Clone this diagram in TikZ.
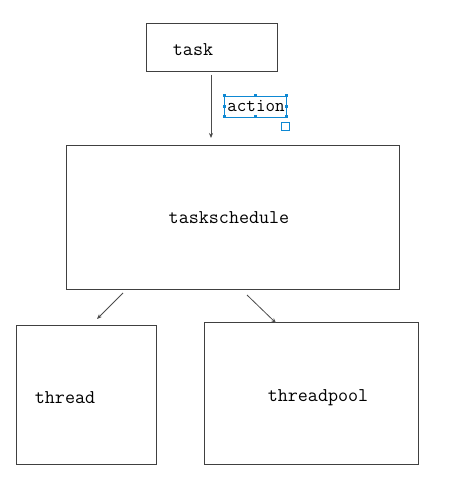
\documentclass[tikz,border=0pt]{standalone}
\usetikzlibrary{arrows.meta}
\begin{document}
\begin{tikzpicture}[x=1pt,y=-1pt,
  box/.style={draw=black!75,line width=0.9pt,inner sep=0pt},
  lbl/.style={font=\fontsize{19.5}{22}\selectfont\ttfamily},
  arr/.style={draw=black!70,line width=0.8pt,-{Stealth[length=5pt,width=4pt]}},
  sel/.style={draw=cyan!70!blue,line width=0.7pt},
  handle/.style={fill=cyan!70!blue,draw=none,minimum size=3pt,inner sep=0pt}]
\useasboundingbox (0,0) rectangle (456,494);
\fill[white] (0,0) rectangle (456,494);
% boxes
\draw[box] (146,23) rectangle (277,71);
\node[lbl] (task) at (193,50) {task};
\coordinate (taskB) at (211,75);
\draw[box] (66,145) rectangle (399,289);
\node[lbl] (ts) at (229,218) {taskschedule};
\coordinate (tsT) at (211,138);
\draw[box] (16,325) rectangle (156,464);
\node[lbl] (thread) at (65,398) {thread};
\draw[box] (204,322) rectangle (418,464);
\node[lbl] (pool) at (318,398) {threadpool};
% arrows
\draw[arr] (taskB) -- (tsT);
\coordinate (a1s) at (123,293);
\coordinate (a1e) at (97,319);
\coordinate (a2s) at (247,295);
\coordinate (a2e) at (276,323);
\draw[arr] (a1s) -- (a1e);
\draw[arr] (a2s) -- (a2e);
% action label with selection handles
\node[lbl,font=\fontsize{18.5}{20}\selectfont\ttfamily] (act) at (256,106) {action};
\draw[sel] (224,96) rectangle (286,117);
\foreach \p in {(224,96),(255,96),(286,96),(224,106.5),(286,106.5),(224,117),(255,117),(286,117)}
  \node[handle] at \p {};
\draw[sel] (281,122) rectangle (289,130);
\end{tikzpicture}
\end{document}
